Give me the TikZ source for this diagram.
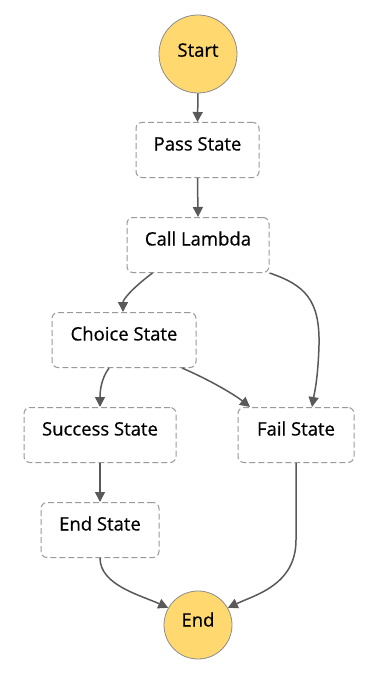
\documentclass[tikz,border=0pt]{standalone}
\usepackage{fontspec}
\setmainfont{Open Sans}
\newfontfamily\labelfont{Open Sans}[FakeBold=0.6]
\usetikzlibrary{arrows.meta}
\definecolor{termfill}{HTML}{FFD970}
\definecolor{termdraw}{HTML}{8C8C8C}
\definecolor{boxdraw}{HTML}{9A9A9A}
\definecolor{edgecol}{HTML}{595959}
\tikzset{
  terminal/.style={circle, fill=termfill, draw=termdraw, line width=0.8pt,
    minimum size=#1, inner sep=0pt, font=\labelfont\fontsize{18.5}{22}\selectfont},
  statebox/.style={draw=boxdraw, line width=1pt, dash pattern=on 6pt off 3pt,
    rounded corners=6pt, anchor=north, minimum width=#1, inner xsep=0pt,
    inner ysep=0pt, text height=28pt, text depth=27pt,
    font=\labelfont\fontsize{18.5}{22}\selectfont},
  flow/.style={draw=edgecol, line width=1.5pt,
    -{Triangle[length=10pt,width=10pt]}}
}
\begin{document}
\begin{tikzpicture}[x=1pt,y=-1pt]
\useasboundingbox (0,0) rectangle (376,682);
% terminals
\node[terminal=78pt] (start) at (198,54) {\raisebox{8pt}{Start}};
\node[terminal=68pt] (end) at (198,625) {\raisebox{11pt}{End}};
% states
\node[statebox=123pt] (pass) at (197.5,122) {Pass State};
\node[statebox=142pt] (call) at (198,217) {Call Lambda};
\node[statebox=144pt] (choice) at (124,312) {Choice State};
\node[statebox=152pt] (success) at (100,407) {Success State};
\node[statebox=116pt] (fail) at (296,407) {Fail State};
\node[statebox=118pt] (endstate) at (100,502) {End State};
% transitions
\draw[flow] (start.south) -- (pass.north);
\draw[flow] (pass.south) -- (call.north);
\draw[flow] ([xshift=26pt]call.south west) .. controls (130,290) and (123,300) .. ([xshift=-1pt]choice.north);
\draw[flow] (call.south east) .. controls (305,285) and (320,300) .. (319,345)
  .. controls (318,380) and (314,395) .. ([xshift=16pt]fail.north);
\draw[flow] ([xshift=-15pt]choice.south) .. controls (100,380) and (100,395) .. ([xshift=0pt]success.north);
\draw[flow] ([xshift=58pt]choice.south) .. controls (210,380) and (235,395) .. ([xshift=-46pt]fail.north);
\draw[flow] (success.south) -- (endstate.north);
\draw[flow] (endstate.south) .. controls (100,585) and (140,595) .. (end.150);
\draw[flow] (fail.south) -- (296,540) .. controls (296,585) and (255,595) .. (end.30);
\end{tikzpicture}
\end{document}
